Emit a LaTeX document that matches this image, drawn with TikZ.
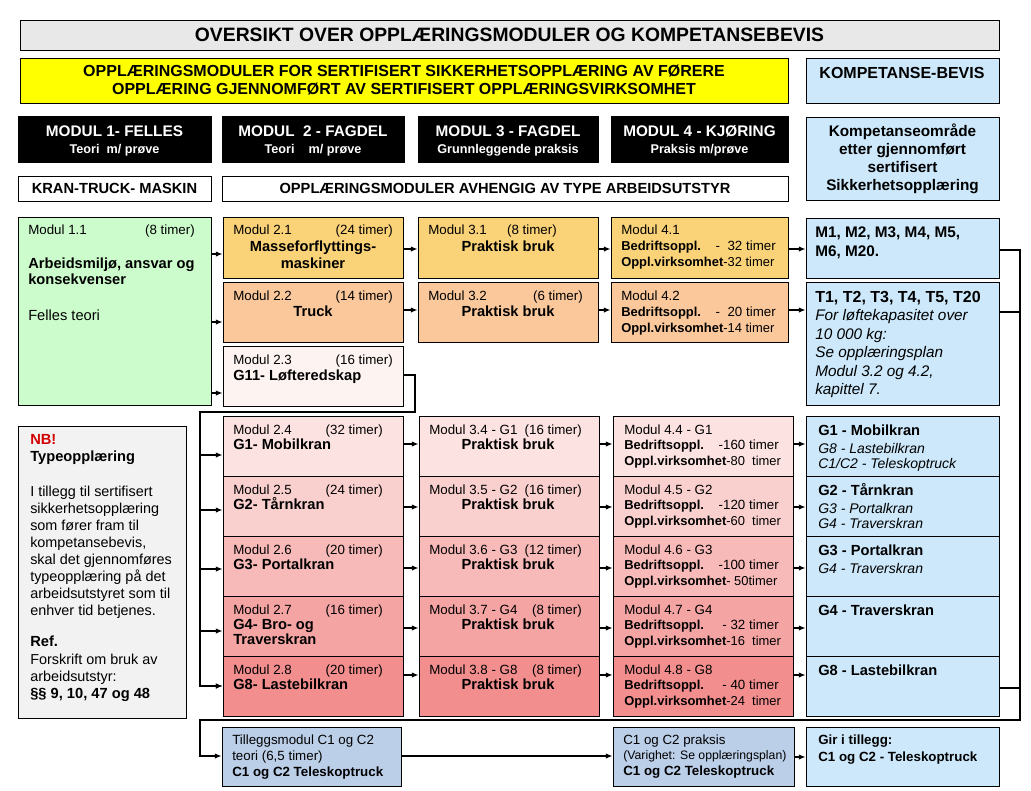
\documentclass[tikz,border=0pt]{standalone}
\usepackage{fontspec}
\setmainfont{Liberation Sans}
\usetikzlibrary{arrows.meta, fit, positioning}
\definecolor{fog}{RGB}{232, 232, 232}
\definecolor{lemon}{RGB}{255, 255, 0}
\definecolor{sky}{RGB}{204, 232, 250}
\definecolor{steel}{RGB}{188, 207, 232}
\definecolor{mint}{RGB}{204, 252, 204}
\definecolor{gold}{RGB}{250, 210, 120}
\definecolor{peach}{RGB}{250, 200, 155}
\definecolor{blush}{RGB}{253, 243, 241}
\definecolor{rose4}{RGB}{252, 226, 224}
\definecolor{rose5}{RGB}{249, 208, 206}
\definecolor{rose6}{RGB}{247, 186, 184}
\definecolor{rose7}{RGB}{244, 164, 163}
\definecolor{rose8}{RGB}{242, 142, 142}
\definecolor{paper}{RGB}{242, 242, 242}
\definecolor{alert}{RGB}{210, 0, 0}

\begin{document}
\begin{tikzpicture}[x=0.75pt, y=-0.75pt,
    cell/.style={draw, line width=0.6pt, inner sep=0pt},
    lab/.style={inner sep=0pt, anchor=base west, font=\fontsize{10}{12}\selectfont},
    labr/.style={lab, anchor=base east},
    bold/.style={inner sep=0pt, anchor=base west, font=\bfseries\fontsize{11}{13}\selectfont},
    boldc/.style={bold, anchor=base},
    slant/.style={inner sep=0pt, anchor=base west, font=\itshape\fontsize{10.5}{12}\selectfont},
    wire/.style={line width=1.2pt},
    arr/.style={wire, -{Latex[length=5pt, width=4pt]}}]
  \useasboundingbox (0,0) rectangle (1031,790);

  \node[cell, fill=fog, fit={(20,20) (999,50)}] (title) {};
  \node[inner sep=0pt, font=\bfseries\fontsize{14.5}{17}\selectfont] (title-txt) at (title)
    {OVERSIKT OVER OPPLÆRINGSMODULER OG KOMPETANSEBEVIS};
  \node[cell, fill=lemon, fit={(20,58) (788,103)}] (intro) {};
  \node[inner sep=0pt, align=center, font=\bfseries\fontsize{12}{13.5}\selectfont] (intro-txt) at (intro)
    {OPPLÆRINGSMODULER FOR SERTIFISERT SIKKERHETSOPPLÆRING AV FØRERE\\OPPLÆRING GJENNOMFØRT AV SERTIFISERT OPPLÆRINGSVIRKSOMHET};
  \node[cell, fill=sky, fit={(806,58) (999,103)}] (bevis) {};
  \node[boldc, font=\bfseries\fontsize{12}{14}\selectfont] (bevis-txt) at (902,78) {KOMPETANSE-BEVIS};

  \foreach \n/\xa/\xb/\ta/\tb in {1/18/211/{MODUL 1- FELLES}/{Teori\ \ m/ prøve},
                                  2/222/404/{MODUL\ \ 2 - FAGDEL}/{Teori\ \ \ \ m/ prøve},
                                  3/418/598/{MODUL 3 - FAGDEL}/{Grunnleggende praksis},
                                  4/611/788/{MODUL 4 - KJØRING}/{Praksis m/prøve}} {
    \pgfmathsetmacro{\xm}{(\xa + \xb) / 2}
    \node[cell, fill=black, fit={(\xa,116) (\xb,162)}] (head\n) {};
    \node[boldc, text=white, font=\bfseries\fontsize{11.5}{14}\selectfont] (head\n-a) at (\xm,136) {\ta};
    \node[boldc, text=white, font=\bfseries\fontsize{9.5}{12}\selectfont] (head\n-b) at (\xm,153) {\tb};
  }

  \node[cell, fill=sky, fit={(806,117) (999,200)}] (omr) {};
  \node[inner sep=0pt, align=center, font=\bfseries\fontsize{11.5}{13.5}\selectfont] (omr-txt) at (omr)
    {Kompetanseområde\\etter gjennomført\\sertifisert\\Sikkerhetsopplæring};
  \node[cell, fit={(18,176) (211,201)}] (kran) {};
  \node[inner sep=0pt, font=\bfseries\fontsize{11}{13}\selectfont] (kran-txt) at (kran) {KRAN-TRUCK- MASKIN};
  \node[cell, fit={(222,176) (788,201)}] (avh) {};
  \node[inner sep=0pt, font=\bfseries\fontsize{11}{13}\selectfont] (avh-txt) at (avh)
    {OPPLÆRINGSMODULER AVHENGIG AV TYPE ARBEIDSUTSTYR};

  \node[cell, fill=mint, fit={(18,217) (211,405)}] (m11) {};
  \node[lab] (m11-mod) at (28,234) {Modul 1.1};
  \node[labr] (m11-hrs) at (195,234) {(8 timer)};
  \node[bold] (m11-a) at (28,268) {Arbeidsmiljø, ansvar og};
  \node[bold] (m11-b) at (28,284) {konsekvenser};
  \node[lab, font=\fontsize{11}{13}\selectfont] (m11-c) at (28,320) {Felles teori};

  \node[cell, fill=gold, fit={(223,217) (403,278)}] (m21) {};
  \node[lab] (m21-mod) at (233,234) {Modul 2.1};
  \node[labr] (m21-hrs) at (393,234) {(24 timer)};
  \node[boldc] (m21-a) at (313,251) {Masseforflyttings-};
  \node[boldc] (m21-b) at (313,268) {maskiner};
  \node[cell, fill=peach, fit={(223,282) (403,342)}] (m22) {};
  \node[lab] (m22-mod) at (233,300) {Modul 2.2};
  \node[labr] (m22-hrs) at (393,300) {(14 timer)};
  \node[boldc] (m22-a) at (313,316) {Truck};
  \node[cell, fill=blush, fit={(223,346) (403,406)}] (m23) {};
  \node[lab] (m23-mod) at (233,364) {Modul 2.3};
  \node[labr] (m23-hrs) at (393,364) {(16 timer)};
  \node[bold] (m23-a) at (233,380) {G11- Løfteredskap};

  \node[cell, fill=gold, fit={(418,217) (598,278)}] (m31) {};
  \node[lab] (m31-mod) at (428,234) {Modul 3.1};
  \node[labr] (m31-hrs) at (557,234) {(8 timer)};
  \node[boldc] (m31-a) at (508,251) {Praktisk bruk};
  \node[cell, fill=peach, fit={(418,282) (598,342)}] (m32) {};
  \node[lab] (m32-mod) at (428,300) {Modul 3.2};
  \node[labr] (m32-hrs) at (583,300) {(6 timer)};
  \node[boldc] (m32-a) at (508,316) {Praktisk bruk};

  \node[cell, fill=gold, fit={(611,217) (788,278)}] (m41) {};
  \node[lab] (m41-mod) at (621,234) {Modul 4.1};
  \node[bold, font=\bfseries\fontsize{9.7}{12}\selectfont] (m41-a) at (621,250) {Bedriftsoppl.};
  \node[labr] (m41-ah) at (776,250) {-\ \ 32 timer};
  \node[lab, font=\fontsize{9.7}{12}\selectfont] (m41-b) at (621,266) {\textbf{Oppl.virksomhet}-32 timer};
  \node[cell, fill=peach, fit={(611,282) (788,342)}] (m42) {};
  \node[lab] (m42-mod) at (621,300) {Modul 4.2};
  \node[bold, font=\bfseries\fontsize{9.7}{12}\selectfont] (m42-a) at (621,316) {Bedriftsoppl.};
  \node[labr] (m42-ah) at (776,316) {-\ \ 20 timer};
  \node[lab, font=\fontsize{9.7}{12}\selectfont] (m42-b) at (621,332) {\textbf{Oppl.virksomhet}-14 timer};

  \node[cell, fill=sky, fit={(806,218) (999,278)}] (kM) {};
  \node[bold, font=\bfseries\fontsize{11.5}{14}\selectfont] (kM-a) at (815,237) {M1, M2, M3, M4, M5,};
  \node[bold, font=\bfseries\fontsize{11.5}{14}\selectfont] (kM-b) at (815,256) {M6, M20.};
  \node[cell, fill=sky, fit={(806,282) (999,405)}] (kT) {};
  \node[bold, font=\bfseries\fontsize{12}{14}\selectfont] (kT-a) at (815,302) {T1, T2, T3, T4, T5, T20};
  \foreach \t [count=\k] in {For løftekapasitet over, 10 000 kg:, Se opplæringsplan, {Modul 3.2 og 4.2,}, kapittel 7.}
    \node[slant, font=\itshape\fontsize{11.5}{14}\selectfont] (kT-\k) at (815,{302 + 18.5 * \k}) {\t};

  \node[cell, fill=paper, fit={(18,426) (186,718)}] (nb) {};
  \node[bold, text=alert] (nb-a) at (30,444) {NB!};
  \node[bold] (nb-b) at (30,461) {Typeopplæring};
  \foreach \t [count=\k] in {I tillegg til sertifisert, sikkerhetsopplæring, som fører fram til,
                            {kompetansebevis,}, skal det gjennomføres, typeopplæring på det,
                            arbeidsutstyret som til, enhver tid betjenes.}
    \node[lab, font=\fontsize{10.8}{13}\selectfont] (nb-\k) at (30,{479 + 17 * \k}) {\t};
  \node[bold] (nb-ref) at (30,646) {Ref.};
  \node[lab, font=\fontsize{10.8}{13}\selectfont] (nb-r1) at (30,664) {Forskrift om bruk av};
  \node[lab, font=\fontsize{10.8}{13}\selectfont] (nb-r2) at (30,681) {arbeidsutstyr:};
  \node[bold] (nb-r3) at (30,698) {§§ 9, 10, 47 og 48};

  \coordinate (bendA) at (415,412);
  \coordinate (trunkA) at (200,412);
  \coordinate (riserTop) at (1020,250);
  \coordinate (riserFoot) at (1020,720);
  \coordinate (returnFoot) at (200,720);

  \foreach \n/\g/\top/\col/\ha/\na/\hb/\ba/\bb/\ga/\ya/\yt in {
      4/1/416/rose4/{(32 timer)}/{G1- Mobilkran}/{(16 timer)}/{-160 timer}/{-80\ \ timer}/{G1 - Mobilkran}/444/455,
      5/2/476/rose5/{(24 timer)}/{G2- Tårnkran}/{(16 timer)}/{-120 timer}/{-60\ \ timer}/{G2 - Tårnkran}/507/510,
      6/3/536/rose6/{(20 timer)}/{G3- Portalkran}/{(12 timer)}/{-100 timer}/{- 50timer}/{G3 - Portalkran}/568/569,
      7/4/596/rose7/{(16 timer)}/{G4- Bro- og}/{(8 timer)}/{- 32 timer}/{-16\ \ timer}/{G4 - Traverskran}/628/631,
      8/8/656/rose8/{(20 timer)}/{G8- Lastebilkran}/{(8 timer)}/{- 40 timer}/{-24\ \ timer}/{G8 - Lastebilkran}/675/686} {
    \pgfmathsetmacro{\low}{\top + 60}
    \node[cell, fill=\col, fit={(223,\top) (403,\low)}] (m2\n) {};
    \node[lab] (m2\n-mod) at (233,{\top + 18}) {Modul 2.\n};
    \node[labr] (m2\n-hrs) at (383,{\top + 18}) {\ha};
    \node[bold] (m2\n-a) at (233,{\top + 33}) {\na};

    \node[cell, fill=\col, fit={(419,\top) (599,\low)}] (m3\n) {};
    \node[lab] (m3\n-mod) at (429,{\top + 18}) {Modul 3.\n\ - G\g};
    \node[labr] (m3\n-hrs) at (582,{\top + 18}) {\hb};
    \node[boldc] (m3\n-a) at (508,{\top + 33}) {Praktisk bruk};

    \node[cell, fill=\col, fit={(613,\top) (793,\low)}] (m4\n) {};
    \node[lab] (m4\n-mod) at (624,{\top + 18}) {Modul 4.\n\ - G\g};
    \node[bold, font=\bfseries\fontsize{9.7}{12}\selectfont] (m4\n-a) at (624,{\top + 33}) {Bedriftsoppl.};
    \node[labr] (m4\n-ah) at (779,{\top + 33}) {\ba};
    \node[lab, font=\fontsize{9.7}{12}\selectfont] (m4\n-b) at (624,{\top + 49}) {\textbf{Oppl.virksomhet}\bb};

    \node[cell, fill=sky, fit={(806,\top) (999,\low)}] (g\n) {};
    \node[bold] (g\n-a) at (818,{\top + 19}) {\ga};

    \draw[arr] (trunkA |- 0,\yt) -- (m2\n.west |- 0,\yt);
    \draw[arr] (m2\n.east |- 0,\ya) -- (m3\n.west |- 0,\ya);
    \draw[arr] (m3\n.east |- 0,\ya) -- (m4\n.west |- 0,\ya);
    \draw[arr] (m4\n.east |- 0,\ya) -- (g\n.west |- 0,\ya);
  }
  \node[bold] (m27-b) at (233,644) {Traverskran};
  \node[slant] (g4-b) at (818,453) {G8 - Lastebilkran};
  \node[slant] (g4-c) at (818,468) {C1/C2 - Teleskoptruck};
  \node[slant] (g5-b) at (818,513) {G3 - Portalkran};
  \node[slant] (g5-c) at (818,528) {G4 - Traverskran};
  \node[slant] (g6-b) at (818,573) {G4 - Traverskran};

  \node[cell, fill=steel, fit={(222,727) (401,786)}] (tillegg) {};
  \node[lab] (tillegg-a) at (232,744) {Tilleggsmodul C1 og C2};
  \node[lab] (tillegg-b) at (232,760) {teori (6,5 timer)};
  \node[bold, font=\bfseries\fontsize{10}{12}\selectfont] (tillegg-c) at (232,776) {C1 og C2 Teleskoptruck};
  \node[cell, fill=steel, fit={(613,727) (794,786)}] (praksis) {};
  \node[lab] (praksis-a) at (623,744) {C1 og C2 praksis};
  \node[lab, font=\fontsize{9.2}{11}\selectfont] (praksis-b) at (623,759) {(Varighet: Se opplæringsplan)};
  \node[bold, font=\bfseries\fontsize{10}{12}\selectfont] (praksis-c) at (623,775) {C1 og C2 Teleskoptruck};
  \node[cell, fill=sky, fit={(806,727) (999,786)}] (gir) {};
  \node[bold, font=\bfseries\fontsize{10}{12}\selectfont] (gir-a) at (818,744) {Gir i tillegg:};
  \node[bold, font=\bfseries\fontsize{10}{12}\selectfont] (gir-b) at (818,761) {C1 og C2 - Teleskoptruck};

  \draw[arr] (m11.east |- 0,254) -- (m21.west |- 0,254);
  \draw[arr] (m11.east |- 0,322) -- (m22.west |- 0,322);
  \draw[arr] (m11.east |- 0,393) -- (m23.west |- 0,393);
  \draw[arr] (m21.east |- 0,249) -- (m31.west |- 0,249);
  \draw[arr] (m31.east |- 0,249) -- (m41.west |- 0,249);
  \draw[arr] (m41.east |- 0,249) -- (kM.west |- 0,249);
  \draw[arr] (m22.east |- 0,310) -- (m32.west |- 0,310);
  \draw[arr] (m32.east |- 0,310) -- (m42.west |- 0,310);
  \draw[arr] (m42.east |- 0,310) -- (kT.west |- 0,310);
  \draw[arr] (m23.east |- 0,375) -| (bendA) -- (trunkA) |- (m28.west |- 0,686);

  \draw[arr, line width=1.5pt] (kM.east |- riserTop) -- (riserTop) -- (riserFoot) -- (returnFoot)
    |- (tillegg.west |- 0,756);
  \draw[wire, line width=1.5pt] (kT.east |- 0,312) -- (riserTop |- 0,312);
  \draw[wire, line width=1.5pt] (g8.east |- 0,688) -- (riserTop |- 0,688);
  \draw[arr] (tillegg.east |- 0,756) -- (praksis.west |- 0,756);
  \draw[arr] (praksis.east |- 0,757) -- (gir.west |- 0,757);
\end{tikzpicture}
\end{document}
